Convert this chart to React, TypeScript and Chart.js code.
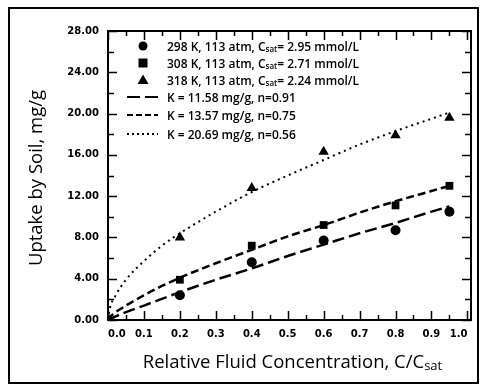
import React, { useEffect, useRef } from "react";
import { Chart, registerables } from "chart.js";

Chart.register(...registerables);

// ---- data ----
const xObserved = [0, 0.2, 0.4, 0.6, 0.8, 0.95];
const uptake298 = [0, 2.4, 5.6, 7.7, 8.7, 10.5];
const uptake308 = [0, 3.9, 7.2, 9.2, 11.1, 13.0];
const uptake318 = [0, 8.0, 12.8, 16.3, 17.9, 19.6];

const xFit = [0, 0.005, 0.02, 0.05, 0.1, 0.15, 0.2, 0.3, 0.4, 0.5, 0.6, 0.7, 0.8, 0.9, 0.95];
const fitK1158 = [0, 0.09, 0.33, 0.76, 1.4, 2.05, 2.7, 3.9, 5.0, 6.2, 7.3, 8.4, 9.4, 10.5, 11.0];
const fitK1357 = [0, 0.26, 0.72, 1.4, 2.4, 3.3, 4.1, 5.5, 6.8, 8.1, 9.2, 10.4, 11.5, 12.5, 13.0];
const fitK2069 = [0, 1.1, 2.3, 3.9, 5.7, 7.2, 8.4, 10.5, 12.4, 14.0, 15.5, 17.0, 18.3, 19.5, 20.1];

const xTickValues = [0, 0.1, 0.2, 0.3, 0.4, 0.5, 0.6, 0.7, 0.8, 0.9, 1.0];
const yTickValues = [0, 4, 8, 12, 16, 20, 24, 28];

const legendRows = [
  { kind: "circle", parts: [{ t: "298 K, 113 atm, C" }, { t: "sat", sub: true }, { t: "= 2.95 mmol/L" }] },
  { kind: "rect", parts: [{ t: "308 K, 113 atm, C" }, { t: "sat", sub: true }, { t: "= 2.71 mmol/L" }] },
  { kind: "triangle", parts: [{ t: "318 K, 113 atm, C" }, { t: "sat", sub: true }, { t: "= 2.24 mmol/L" }] },
  { kind: "long", parts: [{ t: "K = 11.58 mg/g, n=0.91" }] },
  { kind: "dash", parts: [{ t: "K = 13.57 mg/g, n=0.75" }] },
  { kind: "dot", parts: [{ t: "K = 20.69 mg/g, n=0.56" }] },
];

const TITLE_FONT = "'Open Sans', Lato, 'DejaVu Sans', sans-serif";
const TICK_FONT = "'DejaVu Sans', sans-serif";

type Part = { t: string; sub?: boolean };

function drawRich(ctx: CanvasRenderingContext2D, parts: Part[], x: number, y: number, size: number, weight: string, align: "left" | "center") {
  const main = `${weight} ${size}px ${TITLE_FONT}`;
  const small = `${weight} ${Math.round(size * 0.68)}px ${TITLE_FONT}`;
  let total = 0;
  for (const p of parts) {
    ctx.font = p.sub ? small : main;
    total += ctx.measureText(p.t).width;
  }
  let cx = align === "center" ? x - total / 2 : x;
  ctx.textAlign = "left";
  ctx.textBaseline = "alphabetic";
  for (const p of parts) {
    ctx.font = p.sub ? small : main;
    ctx.fillText(p.t, cx, p.sub ? y + size * 0.1 : y);
    cx += ctx.measureText(p.t).width;
  }
}

const decor = {
  id: "decor",
  afterDraw(chart: any) {
    const ctx: CanvasRenderingContext2D = chart.ctx;
    const { left, right, top, bottom } = chart.chartArea;
    const xs = chart.scales.x;
    const ys = chart.scales.y;
    ctx.save();
    ctx.strokeStyle = "#000";
    ctx.fillStyle = "#000";
    // plot frame
    ctx.lineWidth = 2;
    ctx.strokeRect(left, top, right - left, bottom - top);
    // inward ticks
    ctx.lineWidth = 1.5;
    ctx.beginPath();
    for (let i = 0; i <= 20; i++) {
      const px = Math.round(xs.getPixelForValue(i * 0.05)) + 0.5;
      const len = i % 2 === 0 ? 9 : 5;
      ctx.moveTo(px, bottom);
      ctx.lineTo(px, bottom - len);
      ctx.moveTo(px, top);
      ctx.lineTo(px, top + len);
    }
    for (let i = 0; i <= 14; i++) {
      const py = Math.round(ys.getPixelForValue(i * 2)) + 0.5;
      const len = i % 2 === 0 ? 9 : 6;
      ctx.moveTo(left, py);
      ctx.lineTo(left + len, py);
      ctx.moveTo(right, py);
      ctx.lineTo(right - len, py);
    }
    ctx.stroke();

    // legend
    const rowY = [46, 63, 80, 97, 115, 134];
    const symX = 143;
    legendRows.forEach((row, i) => {
      const y = rowY[i];
      ctx.fillStyle = "#000";
      ctx.strokeStyle = "#000";
      if (row.kind === "circle") {
        ctx.beginPath();
        ctx.arc(symX, y, 4.5, 0, Math.PI * 2);
        ctx.fill();
      } else if (row.kind === "rect") {
        ctx.fillRect(symX - 4.5, y - 4.5, 9, 9);
      } else if (row.kind === "triangle") {
        ctx.beginPath();
        ctx.moveTo(symX, y - 5.5);
        ctx.lineTo(symX + 5.5, y + 4);
        ctx.lineTo(symX - 5.5, y + 4);
        ctx.closePath();
        ctx.fill();
      } else {
        ctx.lineWidth = row.kind === "dot" ? 2 : 2.2;
        ctx.setLineDash(row.kind === "long" ? [13, 5] : row.kind === "dash" ? [6, 3] : [2, 3]);
        ctx.beginPath();
        ctx.moveTo(127, y);
        ctx.lineTo(158, y);
        ctx.stroke();
        ctx.setLineDash([]);
      }
      drawRich(ctx, row.parts, 167, y + 4.5, 12, "600", "left");
    });

    // x title
    drawRich(ctx, [{ t: "Relative Fluid Concentration, C/C" }, { t: "sat", sub: true }], (left + right) / 2 + 3, 368, 18.5, "normal", "center");
    // y title
    ctx.save();
    ctx.translate(42, 178);
    ctx.rotate(-Math.PI / 2);
    drawRich(ctx, [{ t: "Uptake by Soil, mg/g" }], 0, 0, 18.5, "normal", "center");
    ctx.restore();

    // outer figure frame
    ctx.lineWidth = 2;
    ctx.strokeRect(9, 8, 469, 375);
    ctx.restore();
  },
};

function toPoints(xsArr: number[], ysArr: number[]) {
  return xsArr.map((x, i) => ({ x, y: ysArr[i] }));
}

export default function App() {
  const ref = useRef<HTMLCanvasElement | null>(null);
  useEffect(() => {
    if (!ref.current) return;
    const markerBase = { showLine: false, backgroundColor: "#000", borderColor: "#000", borderWidth: 0, order: 0 };
    const lineBase = { showLine: true, pointRadius: 0, borderColor: "#000", backgroundColor: "#000", fill: false, cubicInterpolationMode: "monotone" as const, order: 1 };
    const chart = new Chart(ref.current, {
      type: "scatter",
      data: {
        datasets: [
          { ...markerBase, label: "298 K", data: toPoints(xObserved, uptake298), pointStyle: "circle", pointRadius: 5 },
          { ...markerBase, label: "308 K", data: toPoints(xObserved, uptake308), pointStyle: "rect", pointRadius: 5.5 },
          { ...markerBase, label: "318 K", data: toPoints(xObserved, uptake318), pointStyle: "triangle", pointRadius: 6 },
          { ...lineBase, label: "K=11.58", data: toPoints(xFit, fitK1158), borderWidth: 2.5, borderDash: [12, 5] },
          { ...lineBase, label: "K=13.57", data: toPoints(xFit, fitK1357), borderWidth: 2.5, borderDash: [8, 4] },
          { ...lineBase, label: "K=20.69", data: toPoints(xFit, fitK2069), borderWidth: 2, borderDash: [2, 4] },
        ] as any,
      },
      options: {
        animation: false,
        responsive: false,
        maintainAspectRatio: false,
        layout: { padding: { left: 0, top: 31, right: 11, bottom: 0 } },
        plugins: { legend: { display: false }, tooltip: { enabled: false }, title: { display: false } },
        scales: {
          x: {
            type: "linear",
            min: 0,
            max: 1.01,
            grid: { display: false, drawTicks: false },
            border: { display: false },
            afterBuildTicks: (s: any) => { s.ticks = xTickValues.map((value) => ({ value })); },
            afterFit: (s: any) => { s.height = 67; },
            ticks: {
              align: "inner",
              padding: 8,
              color: "#000",
              font: { family: TICK_FONT, size: 10, weight: "bold" },
              callback: (v: any) => Number(v).toFixed(1),
              maxRotation: 0,
              autoSkip: false,
            },
          },
          y: {
            type: "linear",
            min: 0,
            max: 28,
            grid: { display: false, drawTicks: false },
            border: { display: false },
            afterBuildTicks: (s: any) => { s.ticks = yTickValues.map((value) => ({ value })); },
            afterFit: (s: any) => { s.width = 108; },
            ticks: {
              padding: 9,
              color: "#000",
              font: { family: TICK_FONT, size: 10, weight: "bold" },
              callback: (v: any) => Number(v).toFixed(2),
              autoSkip: false,
            },
          },
        },
      } as any,
      plugins: [decor],
    });
    return () => chart.destroy();
  }, []);
  return (
    <div style={{ position: "absolute", left: 0, top: 0, width: 482, height: 387, background: "#fff" }}>
      <canvas ref={ref} width={482} height={387} style={{ display: "block", width: 482, height: 387 }} />
    </div>
  );
}
